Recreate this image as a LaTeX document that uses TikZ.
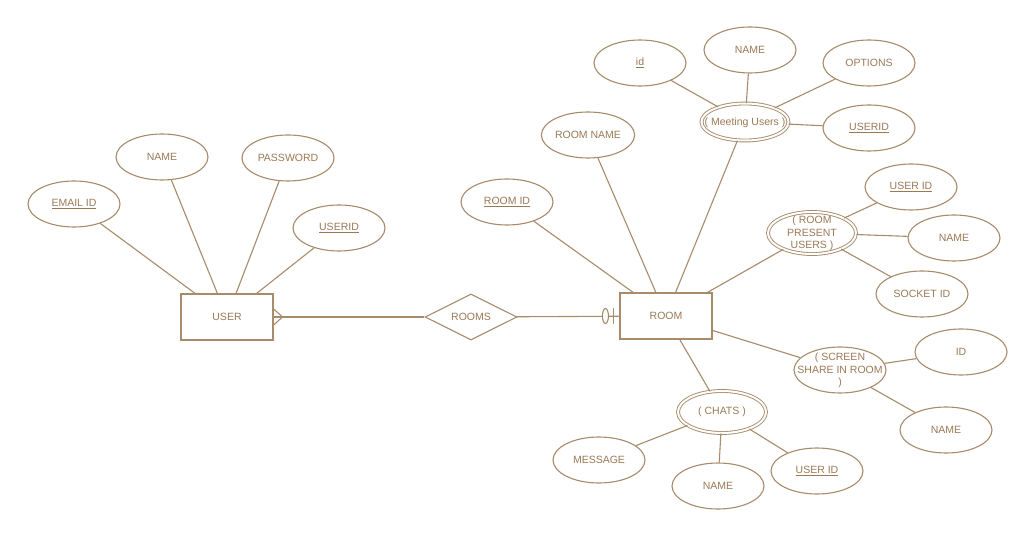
\documentclass[tikz,border=0pt]{standalone}
\usepackage{fontspec}
\setmainfont{Liberation Sans}
\usepackage{tikz}
\usetikzlibrary{shapes.geometric,calc}
\definecolor{erline}{HTML}{A88B6B}
\definecolor{erlabel}{HTML}{9B7955}
\newcommand{\erfont}{\fontsize{10.5}{12.5}\selectfont}
% text that may spill over its ellipse, as in the drawing
\newcommand{\squeezetext}[1]{\makebox[0pt]{\raisebox{-0.35em}[0pt][0pt]{%
  \begin{tabular}{@{}c@{}}#1\end{tabular}}}}
\tikzset{
  entitybox/.style={rectangle,draw=erline,fill=white,line width=1.15pt,
    minimum width=92pt,minimum height=46pt,inner sep=0pt,text=erlabel,font=\erfont},
  relationbox/.style={diamond,aspect=2,draw=erline,fill=white,line width=1.1pt,
    minimum width=92pt,minimum height=46pt,inner sep=0pt,text=erlabel,font=\erfont},
  attributebox/.style={ellipse,draw=erline,fill=white,line width=1.1pt,
    minimum width=92pt,minimum height=46pt,inner sep=0pt,text=erlabel,font=\erfont},
  multivaluedbox/.style={attributebox,double=white,double distance=2pt,line width=0.9pt,
    minimum width=88pt,minimum height=42pt},
  erlink/.style={draw=erline,line width=1.1pt}
}

\begin{document}
\begin{tikzpicture}[x=1pt,y=-1pt]
  \useasboundingbox[fill=white] (0,0) rectangle (1034,537);

  % entities and relationship
  \node[entitybox] (user) at (227,317) {USER};
  \node[relationbox] (rooms) at (471,317) {ROOMS};
  \node[entitybox] (room) at (666,316) {ROOM};

  % user attributes
  \node[attributebox] (useremail) at (74,204) {\underline{EMAIL ID}};
  \node[attributebox] (username) at (162,157) {NAME};
  \node[attributebox] (userpassword) at (288,158) {PASSWORD};
  \node[attributebox] (userkey) at (339,228) {\underline{USERID}};

  % room attributes
  \node[attributebox] (roomkey) at (507,202) {\underline{ROOM ID}};
  \node[attributebox] (roomname) at (588,135) {ROOM NAME};
  \node[multivaluedbox,minimum width=87pt,minimum height=37pt] (meeting)
    at (745,122) {\squeezetext{( Meeting Users )}};
  \node[multivaluedbox] (present) at (812,233) {\squeezetext{( ROOM\\PRESENT\\USERS )}};
  \node[attributebox] (screen) at (840,370) {\squeezetext{( SCREEN\\SHARE IN ROOM\\)}};
  \node[multivaluedbox] (chats) at (722,412) {( CHATS )};

  % meeting users
  \node[attributebox] (meetingid) at (640,63) {\underline{id}};
  \node[attributebox] (meetingname) at (750,50) {NAME};
  \node[attributebox] (meetingoptions) at (869,63) {OPTIONS};
  \node[attributebox] (meetinguser) at (869,128) {\underline{USERID}};

  % room present users
  \node[attributebox] (presentuser) at (911,187) {\underline{USER ID}};
  \node[attributebox] (presentname) at (954,238) {NAME};
  \node[attributebox] (presentsocket) at (922,294) {SOCKET ID};

  % screen share
  \node[attributebox] (screenid) at (961,352) {ID};
  \node[attributebox] (screenname) at (946,430) {NAME};

  % chats
  \node[attributebox] (chatmessage) at (599,460) {MESSAGE};
  \node[attributebox] (chatname) at (718,486) {NAME};
  \node[attributebox] (chatuser) at (817,471) {\underline{USER ID}};

  \foreach \attr in {useremail,username,userpassword,userkey}
    \draw[erlink] (user) -- (\attr);
  \foreach \attr in {roomkey,roomname,meeting,present,screen,chats}
    \draw[erlink] (room) -- (\attr);
  \foreach \attr in {meetingid,meetingname,meetingoptions,meetinguser}
    \draw[erlink] (meeting) -- (\attr);
  \foreach \attr in {presentuser,presentname,presentsocket}
    \draw[erlink] (present) -- (\attr);
  \foreach \attr in {screenid,screenname}
    \draw[erlink] (screen) -- (\attr);
  \foreach \attr in {chatmessage,chatname,chatuser}
    \draw[erlink] (chats) -- (\attr);

  % user many -- rooms -- zero or one room
  \draw[erlink] (user) -- (rooms);
  \draw[erlink] (rooms) -- (room);
  \draw[erlink] ($(user.east)+(0,-8)$) -- ($(user.east)+(9,0)$) -- ($(user.east)+(0,8)$);
  \draw[erlink,fill=white] ($(room.west)+(-14,0)$) ellipse [x radius=3pt,y radius=7.5pt];
  \draw[erlink] ($(room.west)+(-6,-8)$) -- ($(room.west)+(-6,8)$);
\end{tikzpicture}
\end{document}
